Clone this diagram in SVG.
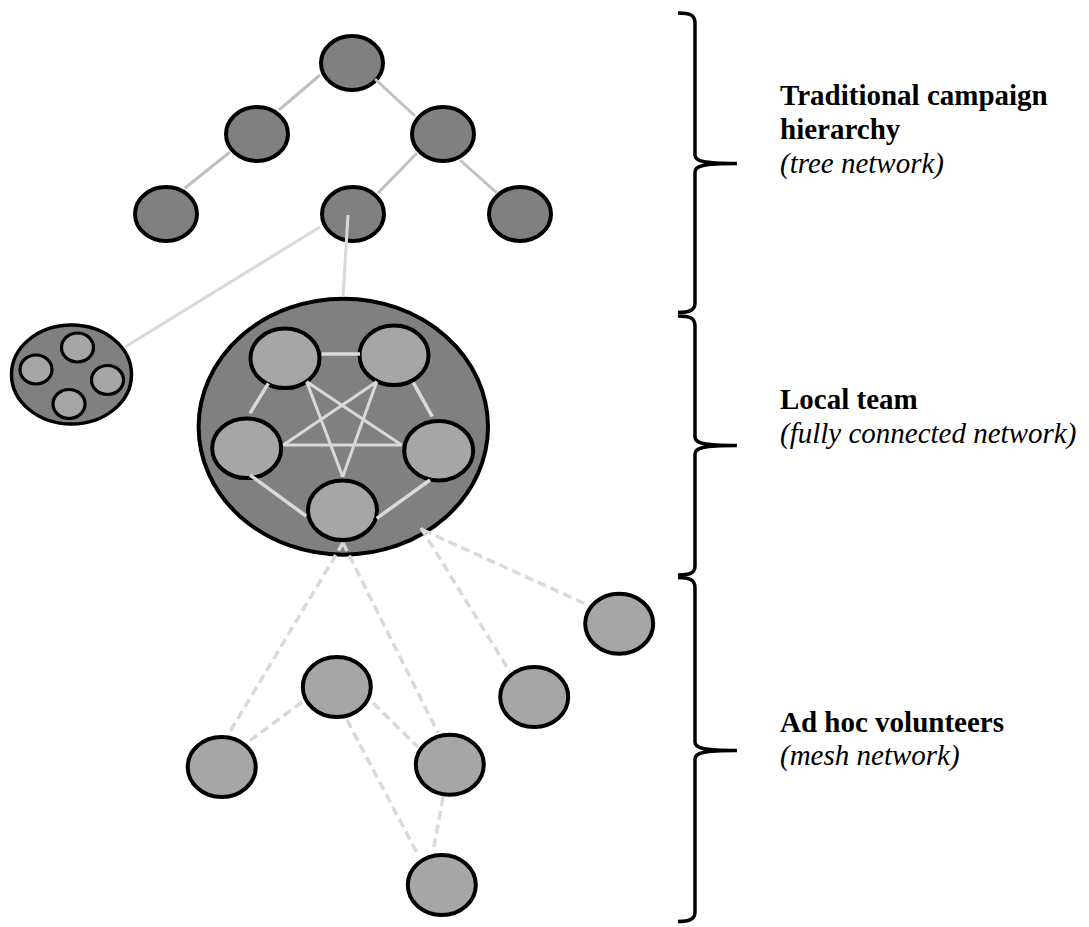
<svg xmlns="http://www.w3.org/2000/svg" width="1089" height="927" viewBox="0 0 1089 927">
<style>
.dark{fill:#808080;stroke:#000;stroke-width:4}
.light{fill:#a6a6a6;stroke:#000;stroke-width:4}
.small{fill:#a6a6a6;stroke:#000;stroke-width:3.2}
.tree{stroke:#c0c0c0;stroke-width:3;fill:none}
.solid{stroke:#d9d9d9;stroke-width:3;fill:none}
.dash{stroke:#d9d9d9;stroke-width:3.5;stroke-dasharray:9 5;fill:none}
.brace{stroke:#000;stroke-width:3.5;fill:none;stroke-linecap:butt}
.b{font-family:"Liberation Serif","Times New Roman",serif;font-size:29px;font-weight:bold;fill:#000}
.i{font-family:"Liberation Serif","Times New Roman",serif;font-size:29px;font-style:italic;fill:#000}
</style>
<rect width="1089" height="927" fill="#fff"/>
<g id="tree-nodes">
<ellipse id="t1" class="dark" cx="352" cy="63" rx="31" ry="27"/>
<ellipse id="t2" class="dark" cx="257" cy="134" rx="31" ry="27"/>
<ellipse id="t3" class="dark" cx="443" cy="134" rx="31" ry="27"/>
<ellipse id="t4" class="dark" cx="166" cy="214" rx="31" ry="27"/>
<ellipse id="t5" class="dark" cx="353" cy="214" rx="31" ry="27"/>
<ellipse id="t6" class="dark" cx="520" cy="214" rx="31" ry="27"/>
</g>
<g id="small-cluster">
<ellipse class="dark" style="stroke-width:3.5" cx="71.5" cy="374.5" rx="60" ry="49.5"/>
<ellipse class="small" cx="77.5" cy="347.5" rx="16" ry="14.5"/>
<ellipse class="small" cx="36" cy="369.5" rx="16" ry="14.5"/>
<ellipse class="small" cx="107.5" cy="380" rx="16" ry="14.5"/>
<ellipse class="small" cx="69" cy="404" rx="16" ry="14.5"/>
</g>
<g id="local-team">
<ellipse class="dark" cx="343.3" cy="426.7" rx="144.7" ry="128"/>
<ellipse id="l1" class="light" cx="285" cy="358.3" rx="34.5" ry="29.8"/>
<ellipse id="l2" class="light" cx="394" cy="355.3" rx="34.5" ry="29.8"/>
<ellipse id="l3" class="light" cx="246.7" cy="448.3" rx="34.5" ry="29.8"/>
<ellipse id="l4" class="light" cx="438.7" cy="450.7" rx="34.5" ry="29.8"/>
<ellipse id="l5" class="light" cx="342.5" cy="510.3" rx="34.5" ry="29.8"/>
</g>
<g id="mesh-nodes">
<ellipse id="m1" class="light" cx="619.2" cy="623.7" rx="34" ry="30"/>
<ellipse id="m2" class="light" cx="534.2" cy="697" rx="34" ry="30"/>
<ellipse id="m3" class="light" cx="336.8" cy="687" rx="34" ry="30"/>
<ellipse id="m4" class="light" cx="221.7" cy="767" rx="34" ry="30"/>
<ellipse id="m5" class="light" cx="449.8" cy="764.7" rx="34" ry="30"/>
<ellipse id="m6" class="light" cx="441.8" cy="885" rx="34" ry="30"/>
</g>
<g id="connectors">
<line class="tree" x1="320" y1="75" x2="279" y2="110"/>
<line class="tree" x1="375" y1="79" x2="415" y2="116"/>
<line class="tree" x1="230" y1="152" x2="185" y2="188"/>
<line class="tree" x1="417" y1="153" x2="378" y2="193"/>
<line class="tree" x1="460" y1="160" x2="497" y2="193"/>
<line class="solid" x1="320" y1="227" x2="125" y2="347"/>
<line class="solid" x1="348" y1="215" x2="343" y2="297"/>
<line class="solid" style="stroke-width:3.5" x1="321.7" y1="354" x2="360" y2="354"/>
<line class="solid" style="stroke-width:3.5" x1="268.3" y1="383.3" x2="250" y2="413.3"/>
<line class="solid" style="stroke-width:3.5" x1="413.3" y1="382.7" x2="432.3" y2="416.7"/>
<line class="solid" style="stroke-width:3.5" x1="250" y1="475" x2="306" y2="516"/>
<line class="solid" style="stroke-width:3.5" x1="430" y1="480" x2="376.7" y2="518.3"/>
<line class="solid" x1="306.7" y1="381.7" x2="342.7" y2="476.7"/>
<line class="solid" x1="306.7" y1="381.7" x2="401.7" y2="445"/>
<line class="solid" x1="376.7" y1="381.7" x2="342.7" y2="476.7"/>
<line class="solid" x1="376.7" y1="381.7" x2="283.3" y2="445"/>
<line class="solid" x1="283.3" y1="445" x2="401.7" y2="445"/>
<line class="dash" x1="423" y1="530" x2="588" y2="605"/>
<line class="dash" x1="421" y1="528" x2="510" y2="672"/>
<line class="dash" x1="343" y1="543" x2="228" y2="735"/>
<line class="dash" x1="343" y1="543" x2="438" y2="733"/>
<line class="dash" x1="302" y1="702" x2="248" y2="742"/>
<line class="dash" x1="373" y1="703" x2="418" y2="747"/>
<line class="dash" x1="347" y1="720" x2="417" y2="853"/>
<line class="dash" x1="443" y1="797" x2="433" y2="852"/>
</g>
<g id="braces">
<path class="brace" d="M678,13 C690,13 695,15 695,23 L695,155 C695,161 703,163.5 737,163.5 M737,163.5 C703,163.5 695,166 695,172 L695,303 C695,310 690,312.5 678,312.5"/>
<path class="brace" d="M678,316 C690,316 695,318 695,326 L695,437 C695,443 703,445.5 737,445.5 M737,445.5 C703,445.5 695,448 695,454 L695,566 C695,573 690,575 678,575"/>
<path class="brace" d="M678,577.5 C690,577.5 695,580 695,588 L695,742 C695,748 703,750.5 737,750.5 M737,750.5 C703,750.5 695,753 695,759 L695,912 C695,919 690,921.5 678,921.5"/>
</g>
<g id="labels">
<text class="b" x="780" y="105">Traditional campaign</text>
<text class="b" x="780" y="139">hierarchy</text>
<text class="i" x="780" y="173">(tree network)</text>
<text class="b" x="780" y="409">Local team</text>
<text class="i" x="780" y="443">(fully connected network)</text>
<text class="b" x="780" y="732">Ad hoc volunteers</text>
<text class="i" x="780" y="765">(mesh network)</text>
</g>
</svg>
